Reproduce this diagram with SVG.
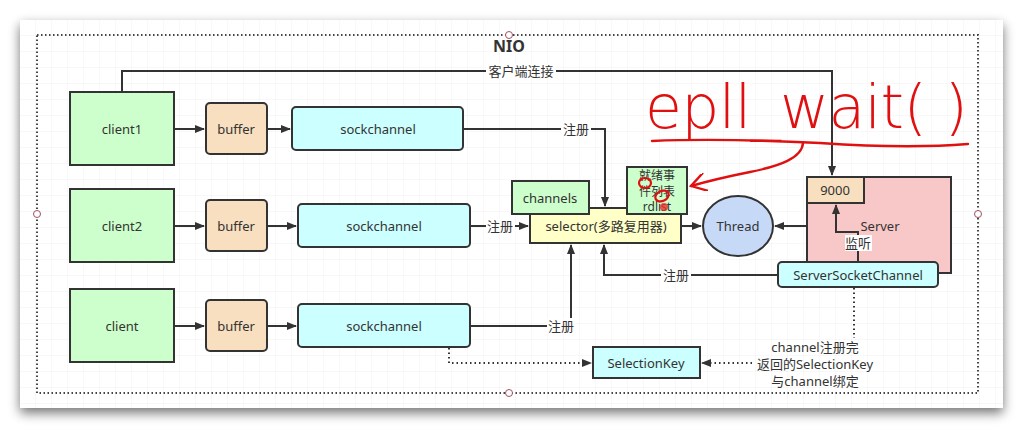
<svg xmlns="http://www.w3.org/2000/svg" width="1029" height="429" viewBox="0 0 1029 429">
<defs>
<filter id="sh" x="-5%" y="-5%" width="110%" height="115%"><feGaussianBlur in="SourceAlpha" stdDeviation="6"/><feOffset dx="0" dy="5"/><feComponentTransfer><feFuncA type="linear" slope="0.55"/></feComponentTransfer><feMerge><feMergeNode/><feMergeNode in="SourceGraphic"/></feMerge></filter>
<pattern id="grid" width="16" height="16" patternUnits="userSpaceOnUse" x="4" y="4"><path d="M16 0V16H0" fill="none" stroke="#f1f1f1" stroke-width="1"/></pattern>
<marker id="ar" viewBox="0 0 10 10" refX="9" refY="5" markerWidth="10" markerHeight="10" markerUnits="userSpaceOnUse" orient="auto"><path d="M0 1L10 5L0 9z" fill="#333"/></marker>
<marker id="rar" viewBox="0 0 10 10" refX="9" refY="5" markerWidth="18" markerHeight="18" markerUnits="userSpaceOnUse" orient="auto"><path d="M1 0L9 5L1 10" fill="none" stroke="#e01010" stroke-width="1.3" stroke-linecap="round"/></marker>
</defs>
<style>
text{font-family:"Noto Sans","Noto Sans CJK SC",sans-serif;font-size:13px;fill:#333;}
.c{text-anchor:middle;dominant-baseline:central;}
.n{stroke:#333;stroke-width:2;}
.g{fill:#ccffcc;}
.b{fill:#f8dfc0;}
.s{fill:#ccffff;}
.ln{fill:none;stroke:#333;stroke-width:2;}
.dt{fill:none;stroke:#333;stroke-width:2;stroke-dasharray:1.5 3;}
.lb{fill:#fff;}
.red{fill:none;stroke:#e01010;stroke-width:2.4;stroke-linecap:round;}
</style>
<rect width="1029" height="429" fill="#fff"/>
<rect x="20" y="20" width="983" height="388" fill="#fff" filter="url(#sh)"/>
<rect x="20" y="20" width="983" height="388" fill="url(#grid)"/>
<g id="nio">
<rect x="37" y="35" width="941" height="358" fill="none" stroke="#444" stroke-width="2" stroke-dasharray="1.5 2.5"/>
<g fill="#fff" stroke="#a05060" stroke-width="1"><circle cx="509" cy="35" r="3.5"/><circle cx="37" cy="214" r="3.5"/><circle cx="978" cy="214" r="3.5"/><circle cx="509" cy="393" r="3.5"/></g>
<text x="509" y="46" class="c" style="font-weight:bold;font-size:16px">NIO</text>
</g>
<g id="connectors">
<polyline class="ln" points="122,92 122,71 832,71 832,175" marker-end="url(#ar)"/>
<rect x="486" y="63" width="70" height="16" class="lb"/>
<text x="521" y="71" class="c">客户端连接</text>
<line class="ln" x1="174" y1="129" x2="204" y2="129" marker-end="url(#ar)"/>
<line class="ln" x1="267" y1="129" x2="290" y2="129" marker-end="url(#ar)"/>
<line class="ln" x1="174" y1="226" x2="204" y2="226" marker-end="url(#ar)"/>
<line class="ln" x1="267" y1="226" x2="296" y2="226" marker-end="url(#ar)"/>
<line class="ln" x1="174" y1="326" x2="204" y2="326" marker-end="url(#ar)"/>
<line class="ln" x1="267" y1="326" x2="296" y2="326" marker-end="url(#ar)"/>
<polyline class="ln" points="463,129 605,129 605,206" marker-end="url(#ar)"/>
<rect x="561" y="121" width="30" height="16" class="lb"/>
<text x="576" y="129" class="c">注册</text>
<line class="ln" x1="470" y1="226" x2="528" y2="226" marker-end="url(#ar)"/>
<rect x="486" y="218" width="29" height="16" class="lb"/>
<text x="500" y="226" class="c">注册</text>
<polyline class="ln" points="470,326 571,326 571,245" marker-end="url(#ar)"/>
<rect x="547" y="318" width="29" height="16" class="lb"/>
<text x="561" y="326" class="c">注册</text>
<polyline class="ln" points="778,275 604,275 604,245" marker-end="url(#ar)"/>
<rect x="661" y="267" width="30" height="16" class="lb"/>
<text x="676" y="275" class="c">注册</text>
<line class="ln" x1="682" y1="226" x2="701" y2="226" marker-end="url(#ar)"/>
<line class="ln" x1="806" y1="226" x2="775" y2="226" marker-end="url(#ar)"/>
<polyline class="dt" points="449,348 449,363 591,363" marker-end="url(#ar)"/>
<line class="dt" x1="752" y1="363" x2="702" y2="363" marker-end="url(#ar)"/>
<line class="dt" x1="854" y1="288" x2="854" y2="338"/>
</g>
<g id="client1"><rect x="70" y="92" width="104" height="73" class="n g"/><text x="122" y="129" class="c">client1</text></g>
<g id="client2"><rect x="70" y="189" width="104" height="73" class="n g"/><text x="122" y="226" class="c">client2</text></g>
<g id="client3"><rect x="70" y="289" width="104" height="73" class="n g"/><text x="122" y="326" class="c">client</text></g>
<g id="buffer1"><rect x="206" y="103" width="61" height="51" rx="4" class="n b"/><text x="236" y="129" class="c">buffer</text></g>
<g id="buffer2"><rect x="206" y="200" width="61" height="51" rx="4" class="n b"/><text x="236" y="226" class="c">buffer</text></g>
<g id="buffer3"><rect x="206" y="300" width="61" height="51" rx="4" class="n b"/><text x="236" y="326" class="c">buffer</text></g>
<g id="sockchannel1"><rect x="292" y="107" width="171" height="43" rx="4" class="n s"/><text x="378" y="129" class="c">sockchannel</text></g>
<g id="sockchannel2"><rect x="298" y="204" width="172" height="43" rx="4" class="n s"/><text x="384" y="226" class="c">sockchannel</text></g>
<g id="sockchannel3"><rect x="298" y="304" width="172" height="43" rx="4" class="n s"/><text x="384" y="326" class="c">sockchannel</text></g>
<g id="selector"><rect x="530" y="208" width="151" height="35" class="n" fill="#ffffc8"/><text x="606" y="226" class="c">selector(多路复用器)</text></g>
<g id="channels"><rect x="512" y="181" width="77" height="33" class="n g"/><text x="550" y="198" class="c">channels</text></g>
<g id="rdlist"><rect x="627" y="167" width="60" height="47" class="n g"/><text x="657" y="175" class="c" style="font-size:12px">就绪事</text><text x="657" y="191" class="c" style="font-size:12px">件列表</text><text x="657" y="206" class="c" style="font-size:12px">rdlist</text></g>
<g id="thread"><ellipse cx="738" cy="226" rx="35" ry="30" class="n" fill="#c6daf8"/><text x="738" y="226" class="c">Thread</text></g>
<g id="server"><rect x="807" y="177" width="144" height="96" class="n" fill="#f8c8c8"/><text x="880" y="226" class="c">Server</text>
<rect x="807" y="177" width="57" height="26" class="n b"/><text x="835" y="190" class="c">9000</text>
<polyline class="ln" points="858,262 858,232 836,232 836,205" marker-end="url(#ar)"/>
<rect x="845" y="235" width="27" height="16" class="lb"/><text x="858" y="243" class="c">监听</text></g>
<g id="serversocketchannel"><rect x="778" y="262" width="160" height="25" rx="4" class="n s"/><text x="858" y="275" class="c">ServerSocketChannel</text></g>
<g id="selectionkey"><rect x="593" y="347" width="107" height="31" class="n s"/><text x="646" y="363" class="c">SelectionKey</text></g>
<g id="note"><text x="815" y="347" class="c">channel注册完</text><text x="815" y="364" class="c">返回的SelectionKey</text><text x="815" y="381" class="c">与channel绑定</text></g>
<g id="annotation">
<text x="645" y="128" style="font-family:'DejaVu Sans',sans-serif;font-weight:200;font-size:60px;fill:#e01010" textLength="323" lengthAdjust="spacing">epll_wait( )</text>
<path class="red" d="M652 141C700 139 760 140 820 143C880 147 930 147 968 144"/>
<path class="red" d="M803 143C802 158 780 166 750 172C725 177 705 182 691 186" marker-end="url(#rar)"/>
<ellipse class="red" cx="645" cy="183" rx="6" ry="5" style="stroke-width:2.2"/>
<ellipse class="red" cx="662" cy="196" rx="7" ry="5" transform="rotate(-25 662 196)" style="stroke-width:2.2"/>
<circle cx="664" cy="207" r="4" fill="#e83030" opacity="0.8"/>
</g>
</svg>
